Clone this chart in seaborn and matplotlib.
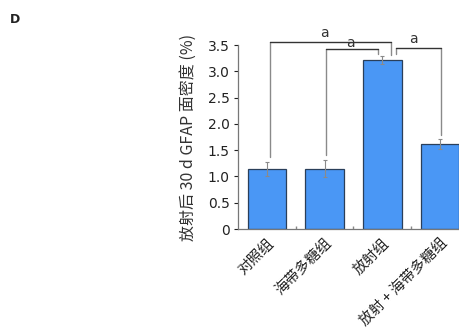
import matplotlib
matplotlib.use("Agg")
import matplotlib.pyplot as plt
import pandas as pd
import seaborn as sns
from matplotlib.ticker import FuncFormatter

sns.set_theme(style="ticks")
plt.rcParams["font.family"] = ["Noto Sans CJK SC", "DejaVu Sans"]

groups = ["对照组", "海带多糖组", "放射组", "放射 + 海带多糖组"]
density = [1.135, 1.15, 3.21, 1.62]
errors = [0.135, 0.165, 0.08, 0.09]
ylabel = "放射后 30 d GFAP 面密度 (%)"

# significance brackets: (left, right, top, left leg end, right leg end, label x, label y)
brackets = [
    (0.06, 2.15, 3.55, 1.37, 3.31, 1.0, 3.60),
    (1.02, 1.92, 3.42, 1.41, 3.33, 1.45, 3.40),
    (2.23, 3.01, 3.435, 3.33, 1.79, 2.54, 3.48),
]

df = pd.DataFrame({"group": groups, "density": density})

fig = plt.figure(figsize=(4.59, 3.31), dpi=100)
ax = fig.add_axes([0.5185, 0.308, 0.503, 0.556])

sns.barplot(data=df, x="group", y="density", color="#4a97f5", width=0.67,
            edgecolor="#2a3f5a", linewidth=0.9, saturation=1, ax=ax)
ax.errorbar(range(len(groups)), density, yerr=errors, fmt="none",
            ecolor="#8a8a8a", elinewidth=0.8, capsize=1.5, capthick=0.8)

for x0, x1, top, l_end, r_end, lx, ly in brackets:
    ax.plot([x0, x0], [l_end, top], color="#8a8a8a", lw=1.0, clip_on=False)
    ax.plot([x1, x1], [r_end, top], color="#8a8a8a", lw=1.0, clip_on=False)
    ax.plot([x0, x1], [top, top], color="#333333", lw=1.0, clip_on=False)
    ax.text(lx, ly, "a", ha="center", va="bottom", fontsize=10,
            family="DejaVu Sans", color="#333333")

ax.set_xlim(-0.5, 3.5)
ax.set_ylim(0, 3.5)
ax.set_yticks([0, 0.5, 1.0, 1.5, 2.0, 2.5, 3.0, 3.5])
ax.yaxis.set_major_formatter(FuncFormatter(lambda v, p: "0" if v == 0 else f"{v:.1f}"))
ax.set_xticks(range(len(groups)))
ax.set_xticklabels(groups, rotation=45, ha="right", rotation_mode="anchor", fontsize=10.5)
ax.tick_params(axis="x", length=0, pad=5, colors="#222222")
ax.set_xticks([0.5, 1.5, 2.5], minor=True)
ax.tick_params(axis="x", which="minor", direction="in", length=2, color="#888888")
ax.tick_params(axis="y", length=3, width=0.8, labelsize=10, colors="#222222",
               direction="out", pad=3)
for lab in ax.get_yticklabels():
    lab.set_family("DejaVu Sans")
ax.set_xlabel("")
ax.set_ylabel(ylabel, fontsize=11.5, color="#333333", labelpad=8)
sns.despine(ax=ax)
for s in ["left", "bottom"]:
    ax.spines[s].set_color("#777777")
    ax.spines[s].set_linewidth(0.9)

fig.text(0.022, 0.96, "D", fontsize=9, fontweight="bold", family="DejaVu Sans",
         va="top", color="#222222")

fig.savefig("out.png", dpi=100)
